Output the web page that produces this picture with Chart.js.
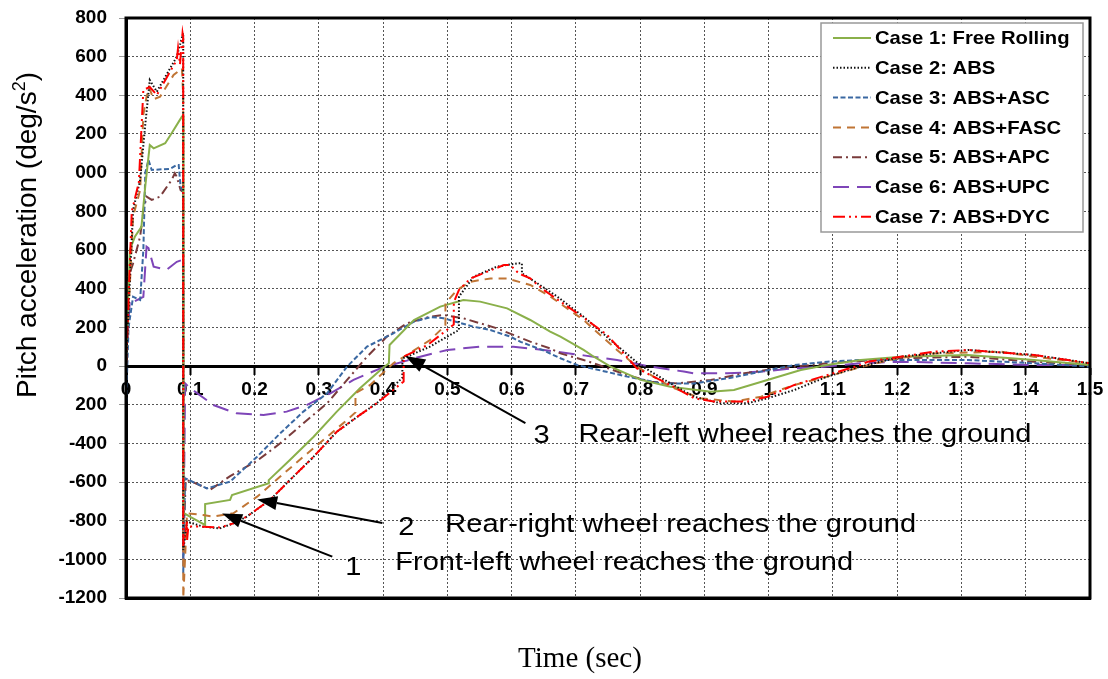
<!DOCTYPE html>
<html>
<head>
<meta charset="utf-8">
<title>Pitch acceleration</title>
<script src="https://cdn.jsdelivr.net/npm/chart.js@4.4.1/dist/chart.umd.min.js"></script>
<style>
  body { margin: 0; background: #fff; }
  #wrap { width: 1108px; height: 679px; }
</style>
</head>
<body>
<div id="wrap"><canvas id="chart"></canvas></div>
<script>
// values (time in s, pitch acceleration in deg/s^2)
const case1T = [0, 0.006, 0.014, 0.024, 0.030, 0.037, 0.043, 0.061, 0.071, 0.087, 0.089, 0.0895, 0.100, 0.123, 0.1231, 0.162, 0.165, 0.222, 0.2221, 0.255, 0.292, 0.328, 0.364, 0.396, 0.409, 0.4101, 0.448, 0.489, 0.525, 0.551, 0.593, 0.629, 0.660, 0.676, 0.712, 0.728, 0.754, 0.801, 0.847, 0.910, 0.946, 0.998, 1.050, 1.091, 1.143, 1.206, 1.310, 1.413, 1.500];
const case1V = [0, 600, 670, 720, 930, 1143, 1126, 1152, 1204, 1290, 1290, -760, -780, -822, -714, -693, -667, -607, -590, -486, -366, -236, -115, -21, 14, 109, 238, 307, 341, 333, 298, 238, 178, 152, 83, 48, -3, -72, -107, -133, -124, -72, -21, 5, 31, 48, 57, 31, 5];

const case2T = [0, 0.011, 0.022, 0.030, 0.037, 0.048, 0.079, 0.089, 0.0891, 0.095, 0.120, 0.146, 0.167, 0.188, 0.224, 0.255, 0.292, 0.328, 0.364, 0.390, 0.430, 0.4301, 0.437, 0.473, 0.518, 0.5181, 0.541, 0.577, 0.609, 0.616, 0.6161, 0.640, 0.671, 0.712, 0.754, 0.800, 0.847, 0.884, 0.925, 0.967, 0.998, 1.040, 1.091, 1.143, 1.206, 1.310, 1.413, 1.500];
const case2V = [0, 807, 962, 1250, 1479, 1419, 1600, 1722, -952, -805, -831, -840, -814, -779, -693, -590, -469, -340, -253, -193, -60, 40, 48, 100, 186, 359, 462, 514, 531, 531, 479, 428, 359, 255, 134, 5, -90, -159, -193, -193, -167, -124, -55, -3, 48, 83, 57, 14];

const case3T = [0, 0.002, 0.004, 0.011, 0.022, 0.027, 0.030, 0.035, 0.040, 0.069, 0.079, 0.082, 0.085, 0.089, 0.0891, 0.092, 0.126, 0.162, 0.204, 0.240, 0.276, 0.313, 0.344, 0.375, 0.416, 0.448, 0.475, 0.494, 0.541, 0.567, 0.598, 0.614, 0.650, 0.676, 0.702, 0.728, 0.780, 0.832, 0.884, 0.936, 0.988, 1.040, 1.091, 1.143, 1.310, 1.413, 1.500];
const case3V = [-228, 0, 200, 358, 341, 600, 1000, 1066, 1014, 1020, 1040, 1040, 927, 900, -1072, -581, -633, -598, -469, -348, -236, -141, -3, 100, 169, 230, 253, 247, 203, 186, 152, 125, 80, 40, 5, -15, -55, -90, -90, -64, -29, 5, 22, 31, 31, 14, -3];

const case4T = [0, 0.011, 0.022, 0.027, 0.032, 0.036, 0.043, 0.053, 0.074, 0.087, 0.089, 0.0891, 0.095, 0.120, 0.136, 0.167, 0.204, 0.240, 0.276, 0.313, 0.344, 0.357, 0.3571, 0.380, 0.416, 0.437, 0.473, 0.497, 0.4971, 0.515, 0.536, 0.567, 0.593, 0.629, 0.660, 0.712, 0.728, 0.764, 0.795, 0.847, 0.894, 0.946, 0.988, 1.040, 1.091, 1.143, 1.200, 1.257, 1.361, 1.413, 1.500];
const case4V = [0, 772, 910, 1300, 1393, 1440, 1380, 1393, 1505, 1540, 1400, -1200, -762, -771, -779, -762, -676, -572, -469, -366, -279, -240, -140, -98, 14, 57, 134, 210, 324, 393, 436, 453, 453, 419, 360, 238, 190, 83, -3, -107, -167, -184, -159, -98, -55, -5, 40, 65, 74, 48, 14];

const case5T = [0, 0.004, 0.011, 0.022, 0.027, 0.032, 0.040, 0.053, 0.071, 0.076, 0.079, 0.085, 0.089, 0.0891, 0.093, 0.100, 0.131, 0.162, 0.204, 0.240, 0.276, 0.313, 0.344, 0.375, 0.406, 0.437, 0.473, 0.494, 0.525, 0.577, 0.629, 0.660, 0.676, 0.712, 0.728, 0.780, 0.816, 0.858, 0.910, 0.962, 1.013, 1.091, 1.206, 1.310, 1.413, 1.500];
const case5V = [0, 462, 531, 669, 800, 876, 859, 876, 962, 997, 979, 910, 900, -935, -590, -595, -640, -570, -490, -400, -296, -193, -72, 48, 152, 221, 255, 264, 247, 195, 126, 91, 65, 31, 14, -47, -81, -90, -72, -38, -12, 14, 40, 48, 22, 5];

const case6T = [0, 0.006, 0.011, 0.027, 0.032, 0.035, 0.043, 0.063, 0.079, 0.087, 0.089, 0.0891, 0.092, 0.100, 0.136, 0.172, 0.214, 0.250, 0.281, 0.318, 0.354, 0.396, 0.437, 0.448, 0.500, 0.551, 0.603, 0.650, 0.712, 0.764, 0.816, 0.868, 0.884, 0.936, 0.988, 1.040, 1.091, 1.143, 1.206, 1.310, 1.413, 1.500];
const case6V = [0, 341, 330, 358, 617, 610, 514, 497, 539, 548, 500, -1000, -90, -115, -202, -245, -253, -236, -202, -141, -72, -12, 28, 40, 83, 100, 100, 83, 55, 31, -3, -29, -38, -38, -29, -12, -3, 14, 22, 14, 5, 5];

const case7T = [0, 0.009, 0.020, 0.027, 0.037, 0.048, 0.079, 0.081, 0.084, 0.088, 0.089, 0.0891, 0.095, 0.0951, 0.097, 0.120, 0.146, 0.167, 0.188, 0.224, 0.255, 0.292, 0.328, 0.364, 0.390, 0.432, 0.4321, 0.470, 0.510, 0.5101, 0.518, 0.536, 0.588, 0.598, 0.611, 0.629, 0.650, 0.712, 0.749, 0.795, 0.847, 0.884, 0.915, 0.967, 0.998, 1.040, 1.091, 1.143, 1.154, 1.257, 1.310, 1.413, 1.500];
const case7V = [0, 800, 950, 1428, 1443, 1402, 1583, 1645, 1560, 1722, 1700, -935, -805, -900, -830, -831, -835, -814, -779, -693, -590, -469, -340, -253, -193, -80, 48, 110, 215, 330, 393, 453, 522, 522, 479, 453, 393, 250, 160, -12, -98, -167, -184, -184, -159, -98, -47, 5, 22, 74, 83, 57, 14];

const caseLabels = ['Case 1: Free Rolling', 'Case 2: ABS', 'Case 3: ABS+ASC', 'Case 4: ABS+FASC', 'Case 5: ABS+APC', 'Case 6: ABS+UPC', 'Case 7: ABS+DYC'];

// tick labels as printed (left edge of the figure is cut off)
const yTickLabels = ['-1200', '-1000', '-800', '-600', '-400', '200', '0', '200', '400', '600', '800', '000', '200', '400', '600', '800'];
const xTickLabels = ['0', '0.1', '0.2', '0.3', '0.4', '0.5', '0.6', '0.7', '0.8', '0.9', '1', '1.1', '1.2', '1.3', '1.4', '1.5'];

// annotation notes: arrow tail/tip, number and text anchors in data units
const notes = [
    { num: '3', text: 'Rear-left wheel reaches the ground', tail: [0.6215, -295], tip: [0.4346, 52], numAt: [0.634, -398], textAt: [0.704, -393] },
    { num: '2', text: 'Rear-right wheel reaches the ground', tail: [0.399, -812], tip: [0.204, -690], numAt: [0.4237, -874], textAt: [0.4969, -857] },
    { num: '1', text: 'Front-left wheel reaches the ground', tail: [0.321, -986], tip: [0.1495, -763], numAt: [0.341, -1081], textAt: [0.419, -1055] }
];

const SANS = '"Liberation Sans", Arial, sans-serif';

const styles = [
    { color: '#8AB04A', dash: [], width: 2, order: 3 },
    { color: '#111111', dash: [1.5, 2], width: 2, order: 1 },
    { color: '#3A68A2', dash: [5, 2.5], width: 2, order: 4 },
    { color: '#C07535', dash: [8, 6], width: 2, order: 2 },
    { color: '#7A3B3B', dash: [9, 4, 2, 4], width: 2, order: 5 },
    { color: '#7E45B8', dash: [16, 8], width: 2, order: 6 },
    { color: '#FF0000', dash: [12, 4, 2, 4, 2, 4], width: 2, order: 0 }
];

const seriesT = [case1T, case2T, case3T, case4T, case5T, case6T, case7T];
const seriesV = [case1V, case2V, case3V, case4V, case5V, case6V, case7V];

const datasets = caseLabels.map((label, i) => ({
    label: label,
    data: seriesT[i].map((t, k) => ({ x: t, y: seriesV[i][k] })),
    borderColor: styles[i].color,
    borderDash: styles[i].dash,
    borderWidth: styles[i].width,
    order: styles[i].order,
    pointRadius: 0,
    tension: 0,
    fill: false
}));

function drawArrow(ctx, x1, y1, x2, y2) {
    const ang = Math.atan2(y2 - y1, x2 - x1);
    const len = 20, half = 7;
    const bx = x2 - len * Math.cos(ang), by = y2 - len * Math.sin(ang);
    ctx.beginPath();
    ctx.moveTo(x1, y1);
    ctx.lineTo(bx, by);
    ctx.stroke();
    ctx.beginPath();
    ctx.moveTo(x2, y2);
    ctx.lineTo(bx + half * Math.sin(ang), by - half * Math.cos(ang));
    ctx.lineTo(bx - half * Math.sin(ang), by + half * Math.cos(ang));
    ctx.closePath();
    ctx.fill();
}

// the figure text is a bit wider than plain Arial
function wideText(ctx, text, x, y, sx) {
    ctx.save();
    ctx.translate(x, y);
    ctx.scale(sx, 1);
    ctx.fillText(text, 0, 0);
    ctx.restore();
}

const overlay = {
    id: 'overlay',
    afterDraw(chart) {
        const { ctx, chartArea: a } = chart;
        const x = chart.scales.x, y = chart.scales.y;
        ctx.save();

        // plot frame
        ctx.strokeStyle = '#000';
        ctx.lineWidth = 3;
        ctx.setLineDash([]);
        ctx.strokeRect(a.left, a.top, a.right - a.left, a.bottom - a.top);

        // arrows with notes
        ctx.lineWidth = 2;
        ctx.fillStyle = '#000';
        notes.forEach(n => {
            drawArrow(ctx, x.getPixelForValue(n.tail[0]), y.getPixelForValue(n.tail[1]),
                x.getPixelForValue(n.tip[0]), y.getPixelForValue(n.tip[1]));
            ctx.font = '25px ' + SANS;
            ctx.textAlign = 'left';
            ctx.textBaseline = 'alphabetic';
            wideText(ctx, n.num, x.getPixelForValue(n.numAt[0]), y.getPixelForValue(n.numAt[1]), 1.16);
            wideText(ctx, n.text, x.getPixelForValue(n.textAt[0]), y.getPixelForValue(n.textAt[1]), 1.16);
        });

        // legend box
        ctx.fillStyle = '#fff';
        ctx.fillRect(821, 23, 262, 209);
        ctx.strokeStyle = '#999';
        ctx.lineWidth = 1.5;
        ctx.strokeRect(821, 23, 262, 209);
        caseLabels.forEach((label, i) => {
            const ry = 38 + i * 29.8;
            ctx.strokeStyle = styles[i].color;
            ctx.lineWidth = styles[i].width;
            ctx.setLineDash(styles[i].dash);
            ctx.beginPath();
            ctx.moveTo(833, ry);
            ctx.lineTo(871, ry);
            ctx.stroke();
            ctx.setLineDash([]);
            ctx.fillStyle = '#000';
            ctx.font = 'bold 19px ' + SANS;
            ctx.textBaseline = 'middle';
            wideText(ctx, label, 875, ry + 1, 1.065);
        });

        // y axis title with superscript
        ctx.save();
        ctx.translate(36, 235);
        ctx.rotate(-Math.PI / 2);
        ctx.fillStyle = '#000';
        ctx.textBaseline = 'alphabetic';
        ctx.textAlign = 'left';
        const main = 'Pitch acceleration (deg/s', sup = '2', tail = ')';
        ctx.font = '28px ' + SANS;
        const w1 = ctx.measureText(main).width, w3 = ctx.measureText(tail).width;
        ctx.font = '18px ' + SANS;
        const w2 = ctx.measureText(sup).width;
        let sx = -(w1 + w2 + w3) / 2;
        ctx.font = '28px ' + SANS;
        ctx.fillText(main, sx, 0);
        sx += w1;
        ctx.font = '18px ' + SANS;
        ctx.fillText(sup, sx, -11);
        sx += w2;
        ctx.font = '28px ' + SANS;
        ctx.fillText(tail, sx, 0);
        ctx.restore();

        // x axis title
        ctx.fillStyle = '#000';
        ctx.font = '29px "Liberation Serif", "Times New Roman", serif';
        ctx.textAlign = 'center';
        ctx.textBaseline = 'alphabetic';
        ctx.fillText('Time (sec)', 580, 667);

        ctx.restore();
    }
};

const tickFont = { family: SANS, size: 19, weight: 'bold' };

new Chart(document.getElementById('chart'), {
    type: 'line',
    data: { datasets: datasets },
    options: {
        responsive: true,
        maintainAspectRatio: false,
        animation: false,
        layout: { padding: { left: 0, top: 18, right: 18, bottom: 0 } },
        plugins: { legend: { display: false }, tooltip: { enabled: false } },
        scales: {
            x: {
                type: 'linear',
                position: 'bottom',
                min: 0, max: 1.5,
                ticks: { stepSize: 0.1, display: false },
                grid: { color: '#555', lineWidth: 1, drawTicks: false },
                border: { display: true, color: '#000', width: 3, dash: [2, 2] },
                afterFit(s) { s.height = 81; s.paddingLeft = 0; s.paddingRight = 0; }
            },
            x2: {
                type: 'linear',
                axis: 'x',
                position: { y: 0 },
                min: 0, max: 1.5,
                ticks: {
                    stepSize: 0.1, autoSkip: false, maxRotation: 0, padding: 5,
                    color: '#000', font: tickFont,
                    callback: (v, i) => xTickLabels[i]
                },
                grid: { drawOnChartArea: false, drawTicks: true, tickLength: 7, tickColor: '#000', tickWidth: 2 },
                border: { display: true, color: '#000', width: 3 },
                afterFit(s) { s.paddingLeft = 0; s.paddingRight = 0; }
            },
            y: {
                min: -1200, max: 1800,
                ticks: {
                    stepSize: 200, autoSkip: false, padding: 12,
                    color: '#000', font: tickFont,
                    callback: (v, i) => yTickLabels[i]
                },
                grid: { color: '#555', lineWidth: 1, tickLength: 7, tickColor: '#999' },
                border: { display: true, color: '#000', width: 3, dash: [2, 2] },
                afterFit(s) { s.width = 126; s.paddingTop = 0; s.paddingBottom = 0; }
            }
        }
    },
    plugins: [overlay]
});
</script>
</body>
</html>
